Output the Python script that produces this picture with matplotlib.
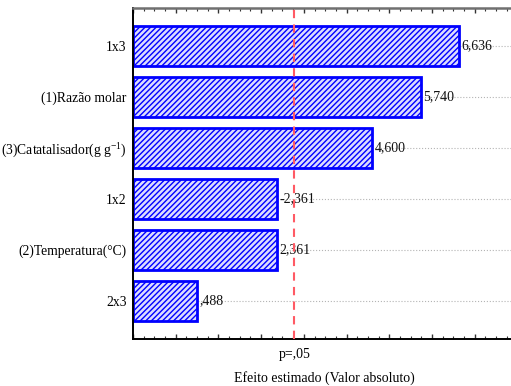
import matplotlib
matplotlib.use("Agg")
import matplotlib.pyplot as plt
from matplotlib.ticker import MultipleLocator
from matplotlib.transforms import blended_transform_factory

# efeitos padronizados (diagrama de Pareto)
termos = ['1x3', '(1)Razão molar', '(3)Catatalisador(g g$^{-1}$)',
          '1x2', '(2)Temperatura(°C)', '2x3']
efeitos = [6.636, 5.740, 4.600, -2.361, 2.361, 0.488]
t_crit = 2.776      # limite p=,05
x_min, x_max = -1.0, 7.85

plt.rcParams['font.family'] = ['Liberation Serif', 'DejaVu Serif']
plt.rcParams['mathtext.fontset'] = 'custom'
plt.rcParams['mathtext.rm'] = 'Liberation Serif'
plt.rcParams['mathtext.default'] = 'rm'
plt.rcParams['hatch.color'] = '#2a2aff'
plt.rcParams['hatch.linewidth'] = 1.0


def fmt(v):
    s = '%.3f' % v
    s = s.replace('0.', '.', 1) if abs(v) < 1 else s
    return s.replace('.', ',')


fig = plt.figure(figsize=(5.11, 3.86), dpi=100)
ax = fig.add_axes([0.2603, 0.1218, 0.7397, 0.8575])

pos = list(range(len(termos)))
for y in pos:
    ax.axhline(y, color='#b4b4b4', lw=0.8, ls=':', zorder=0)

larg = [abs(v) - x_min for v in efeitos]
ax.barh(pos, larg, left=x_min, height=0.79, color='#dcdcff',
        edgecolor='#0000ff', linewidth=2, hatch='//////', zorder=2)

for y, v in zip(pos, efeitos):
    ax.text(abs(v) + 0.06, y, fmt(v), va='center', ha='left',
            fontsize=10, color='#111111', zorder=3)

ax.axvline(t_crit, color='#ff5a64', lw=1.5, ls=(0, (4, 3)), zorder=4)

ax.set_xlim(x_min, x_max)
ax.set_ylim(5.74, -0.74)
ax.set_yticks(pos)
ax.set_yticklabels(termos, fontsize=9.8)
ax.tick_params(axis='y', length=0, pad=4.5)

ax.xaxis.set_major_locator(MultipleLocator(1))
ax.xaxis.set_minor_locator(MultipleLocator(0.25))
ax.tick_params(axis='x', which='both', direction='in', top=True,
               labelbottom=False, colors='#333333')
ax.tick_params(axis='x', which='major', length=3.5, width=1)
ax.tick_params(axis='x', which='minor', length=2, width=0.8)

tr = blended_transform_factory(ax.transData, ax.transAxes)
ax.text(t_crit, -0.027, 'p=,05', transform=tr, ha='center', va='top',
        fontsize=10)
ax.set_xlabel('Efeito estimado (Valor absoluto)', fontsize=10)
ax.xaxis.set_label_coords(0.505, -0.097)

ax.spines['right'].set_visible(False)
ax.spines['top'].set_color('#707070')
ax.spines['top'].set_linewidth(1.8)
ax.spines['bottom'].set_linewidth(1.4)
ax.spines['left'].set_linewidth(1.4)

fig.savefig('out.png', dpi=100)
